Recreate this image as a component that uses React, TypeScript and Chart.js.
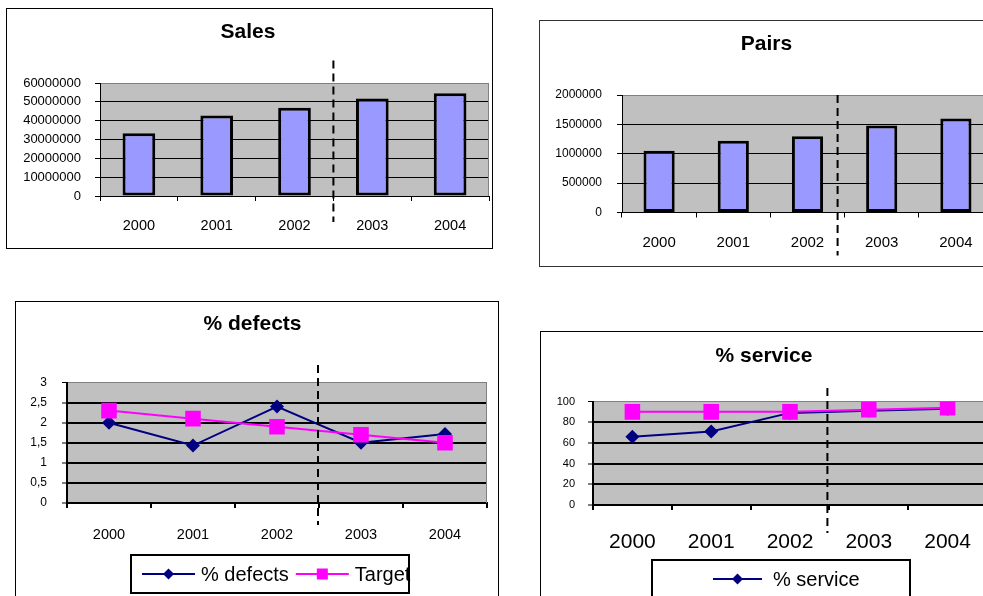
import React, { useEffect, useRef } from "react";
import { Chart, registerables } from "chart.js";

Chart.register(...registerables);

// ---------- data ----------
const YEARS = ["2000", "2001", "2002", "2003", "2004"];
const SALES = [33300000, 42800000, 46900000, 51800000, 54600000];
const PAIRS = [1050000, 1220000, 1300000, 1480000, 1600000];
const DEFECTS = [2.0, 1.43, 2.4, 1.5, 1.72];
const DEFECTS_TARGET = [2.3, 2.1, 1.9, 1.7, 1.5];
const SERVICE = [66, 71, 89, 91, 93];
const SERVICE_TARGET = [90, 90, 90, 92, 94];
const FIRST_FORECAST_YEAR = "2003";

const SALES_TICKS = { max: 60000000, step: 10000000 };
const PAIRS_TICKS = { max: 2000000, step: 500000 };
const DEFECTS_TICKS = { max: 3, step: 0.5 };
const SERVICE_TICKS = { max: 100, step: 20 };

// ---------- styling ----------
const FONT = "'Liberation Sans', Arial, Helvetica, sans-serif";
const NAVY = "#000080";
const MAGENTA = "#ff00ff";
const BAR = "#9999ff";
const PLOT_BG = "#c0c0c0";

Chart.defaults.font.family = FONT;
Chart.defaults.color = "#000";

const plotFrame = {
  id: "plotFrame",
  beforeDraw(chart: any) {
    const { ctx, chartArea: a } = chart;
    ctx.save();
    ctx.fillStyle = PLOT_BG;
    ctx.fillRect(a.left, a.top, a.right - a.left, a.bottom - a.top);
    ctx.restore();
  },
  beforeDatasetsDraw(chart: any) {
    const { ctx, chartArea: a } = chart;
    ctx.save();
    ctx.strokeStyle = "#808080";
    ctx.lineWidth = 1;
    const rx = Math.round(a.right) - 0.5;
    ctx.beginPath();
    ctx.moveTo(rx, a.top);
    ctx.lineTo(rx, a.bottom);
    ctx.stroke();
    ctx.restore();
  },
};

const divider = {
  id: "divider",
  afterDatasetsDraw(chart: any, _args: any, opts: any) {
    const labels = chart.data.labels as string[];
    const idx = labels.indexOf(opts.before);
    if (idx < 1) return;
    const xs = chart.scales.x;
    const px =
      (xs.getPixelForValue(idx - 1) + xs.getPixelForValue(idx)) / 2 + (opts.shift || 0);
    const a = chart.chartArea;
    const ctx = chart.ctx;
    ctx.save();
    ctx.setLineDash([8, 5]);
    ctx.lineWidth = 2;
    ctx.strokeStyle = "#000";
    ctx.beginPath();
    ctx.moveTo(px, a.top - opts.above);
    ctx.lineTo(px, a.bottom + opts.below);
    ctx.stroke();
    ctx.restore();
  },
};

function drawMarker(ctx: CanvasRenderingContext2D, style: string, x: number, y: number, r: number, color: string) {
  ctx.save();
  ctx.fillStyle = color;
  ctx.beginPath();
  if (style === "rectRot") {
    ctx.moveTo(x, y - r);
    ctx.lineTo(x + r, y);
    ctx.lineTo(x, y + r);
    ctx.lineTo(x - r, y);
    ctx.closePath();
  } else {
    ctx.rect(x - r, y - r, 2 * r, 2 * r);
  }
  ctx.fill();
  ctx.restore();
}

const boxLegend = {
  id: "boxLegend",
  afterDraw(chart: any, _args: any, opts: any) {
    if (!opts || !opts.show) return;
    const ctx = chart.ctx as CanvasRenderingContext2D;
    ctx.save();
    ctx.fillStyle = "#fff";
    ctx.fillRect(opts.left, opts.top, opts.width, opts.height);
    ctx.lineWidth = 2;
    ctx.strokeStyle = "#000";
    ctx.strokeRect(opts.left, opts.top, opts.width, opts.height);
    const cy = opts.top + opts.height / 2;
    let x = opts.startX;
    ctx.font = `${opts.fontSize}px ${FONT}`;
    ctx.textBaseline = "middle";
    ctx.textAlign = "left";
    chart.data.datasets.forEach((ds: any, i: number) => {
      if ((opts.hide || []).includes(i)) return;
      ctx.strokeStyle = ds.borderColor;
      ctx.lineWidth = ds.borderWidth;
      ctx.beginPath();
      ctx.moveTo(x, cy);
      ctx.lineTo(x + opts.symbolWidth, cy);
      ctx.stroke();
      drawMarker(ctx, ds.pointStyle, x + opts.symbolWidth / 2, cy, ds.pointStyle === "rectRot" ? 5.5 : 5.5, ds.pointBackgroundColor);
      const tx = x + opts.symbolWidth + opts.textGap;
      ctx.fillStyle = "#000";
      ctx.fillText(ds.label, tx, cy + 1);
      x = tx + ctx.measureText(ds.label).width + opts.itemGap;
    });
    ctx.restore();
  },
};

function yAxis(o: any) {
  return {
    min: 0,
    max: o.max,
    afterFit: (s: any) => {
      s.width = o.width;
    },
    grid: {
      color: (c: any) => (c.tick && c.tick.value === o.max ? "#808080" : "#000"),
      lineWidth: (c: any) => (c.tick && c.tick.value === o.max ? 1 : o.grid),
      drawTicks: true,
      tickLength: 5,
      tickColor: "#000",
      tickWidth: 1,
    },
    border: { display: true, color: "#000", width: o.axis },
    ticks: {
      stepSize: o.step,
      color: "#000",
      padding: o.pad,
      font: { family: FONT, size: o.font },
      callback: o.fmt,
    },
  };
}

function xAxis(o: any) {
  return {
    type: "category",
    offset: true,
    afterFit: (s: any) => {
      s.height = o.height;
    },
    grid: {
      display: true,
      offset: true,
      drawOnChartArea: false,
      drawTicks: true,
      tickLength: 5,
      color: "#000",
      tickColor: "#000",
      tickWidth: o.tick,
      lineWidth: o.tick,
    },
    border: { display: true, color: "#000", width: o.axis },
    ticks: {
      color: "#000",
      padding: o.pad,
      font: { family: FONT, size: o.font },
      maxRotation: 0,
      autoSkip: false,
    },
  };
}

function titleOpts(text: string, top: number, bottom: number) {
  return {
    display: true,
    text,
    color: "#000",
    font: { family: FONT, size: 21, weight: "bold" },
    padding: { top, bottom },
  };
}

const plain = (v: any) => String(v);
const comma = (v: any) => String(v).replace(".", ",");

function barConfig(label: string, values: number[], ticks: any, lay: any) {
  return {
    type: "bar",
    data: {
      labels: YEARS,
      datasets: [
        {
          label,
          data: values,
          backgroundColor: BAR,
          borderColor: "#000",
          borderWidth: 3,
          borderSkipped: false,
          barPercentage: 0.42,
          categoryPercentage: 1,
        },
      ],
    },
    plugins: [plotFrame, divider],
    options: {
      responsive: false,
      animation: false,
      events: [],
      layout: { padding: { left: 0, right: lay.right, top: 0, bottom: 0 } },
      scales: {
        x: xAxis({ height: lay.xHeight, pad: lay.xPad, font: lay.xFont, tick: 1, axis: 1 }),
        y: yAxis({ max: ticks.max, step: ticks.step, width: lay.yWidth, pad: lay.yPad, font: lay.yFont, grid: 1, axis: 1, fmt: plain }),
      },
      plugins: {
        legend: { display: false },
        tooltip: { enabled: false },
        title: titleOpts(label, lay.titleTop, lay.titleBottom),
        divider: { before: FIRST_FORECAST_YEAR, shift: lay.divShift, above: lay.divAbove, below: lay.divBelow },
      },
    },
  };
}

function lineDatasets(label: string, values: number[], target: number[], lay: any) {
  return [
    {
      label,
      data: values,
      borderColor: NAVY,
      borderWidth: 2,
      pointStyle: "rectRot",
      pointRadius: lay.dia,
      pointBackgroundColor: NAVY,
      pointBorderColor: NAVY,
      pointBorderWidth: 0,
      tension: 0,
      order: 1,
    },
    {
      label: "Target",
      data: target,
      borderColor: MAGENTA,
      borderWidth: 2,
      pointStyle: "rect",
      pointRadius: lay.sq,
      pointBackgroundColor: MAGENTA,
      pointBorderColor: MAGENTA,
      pointBorderWidth: 0,
      tension: 0,
      order: 0,
    },
  ];
}

function lineConfig(title: string, label: string, values: number[], target: number[], ticks: any, fmt: any, lay: any) {
  return {
    type: "line",
    data: { labels: YEARS, datasets: lineDatasets(label, values, target, lay) },
    plugins: [plotFrame, divider, boxLegend],
    options: {
      responsive: false,
      animation: false,
      events: [],
      layout: { padding: { left: 0, right: lay.right, top: 0, bottom: lay.bottom } },
      scales: {
        x: xAxis({ height: lay.xHeight, pad: lay.xPad, font: lay.xFont, tick: 2, axis: 2 }),
        y: yAxis({ max: ticks.max, step: ticks.step, width: lay.yWidth, pad: lay.yPad, font: lay.yFont, grid: 2, axis: 2, fmt }),
      },
      plugins: {
        legend: { display: false },
        tooltip: { enabled: false },
        title: titleOpts(title, lay.titleTop, lay.titleBottom),
        divider: { before: FIRST_FORECAST_YEAR, shift: lay.divShift, above: lay.divAbove, below: lay.divBelow },
        boxLegend: lay.legend,
      },
    },
  };
}

function Panel({ box, border, makeConfig }: any) {
  const ref = useRef<HTMLCanvasElement>(null);
  const w = box.width - 2;
  const h = box.height - 2;
  useEffect(() => {
    const chart = new Chart(ref.current as HTMLCanvasElement, makeConfig());
    return () => chart.destroy();
  }, []);
  return (
    <div
      style={{
        position: "absolute",
        left: box.left,
        top: box.top,
        width: box.width,
        height: box.height,
        border: `1px solid ${border}`,
        boxSizing: "border-box",
        background: "#fff",
      }}
    >
      <canvas ref={ref} width={w} height={h} style={{ display: "block", width: w, height: h }} />
    </div>
  );
}

export default function App() {
  return (
    <div
      style={{
        position: "fixed",
        left: 0,
        top: 0,
        width: 983,
        height: 596,
        overflow: "hidden",
        background: "#fff",
      }}
    >
      <Panel
        box={{ left: 6, top: 8, width: 487, height: 241 }}
        border="#000"
        makeConfig={() =>
          barConfig("Sales", SALES, SALES_TICKS, {
            right: 3, xHeight: 52, xPad: 16, xFont: 14.5, yWidth: 93, yPad: 14, yFont: 13,
            titleTop: 10.9, titleBottom: 37.9, divShift: 0, divAbove: 22.5, divBelow: 26,
          })
        }
      />
      <Panel
        box={{ left: 539, top: 20, width: 480, height: 247 }}
        border="#333"
        makeConfig={() =>
          barConfig("Pairs", PAIRS, PAIRS_TICKS, {
            right: 25, xHeight: 53.5, xPad: 16, xFont: 15, yWidth: 82, yPad: 15, yFont: 12,
            titleTop: 10.7, titleBottom: 38.1, divShift: -7, divAbove: 0, divBelow: 43,
          })
        }
      />
      <Panel
        box={{ left: 15, top: 301, width: 484, height: 310 }}
        border="#000"
        makeConfig={() =>
          lineConfig("% defects", "% defects", DEFECTS, DEFECTS_TARGET, DEFECTS_TICKS, comma, {
            right: 9, bottom: 62, xHeight: 45, xPad: 18, xFont: 14.5, yWidth: 51, yPad: 15, yFont: 12,
            titleTop: 9.9, titleBottom: 45.4, divShift: -1, divAbove: 17.5, divBelow: 22, sq: 11, dia: 7,
            legend: { show: true, left: 115, top: 253, width: 278, height: 38, startX: 126, symbolWidth: 53, textGap: 6, itemGap: 7, fontSize: 20, hide: [] },
          })
        }
      />
      <Panel
        box={{ left: 540, top: 331, width: 480, height: 290 }}
        border="#000"
        makeConfig={() =>
          lineConfig("% service", "% service", SERVICE, SERVICE_TARGET, SERVICE_TICKS, plain, {
            right: 32, bottom: 55, xHeight: 60, xPad: 20, xFont: 21, yWidth: 52, yPad: 13, yFont: 11,
            titleTop: 11.6, titleBottom: 32.7, divShift: -2, divAbove: 13.5, divBelow: 28, sq: 11, dia: 7,
            legend: { show: true, left: 111, top: 228, width: 258, height: 38, startX: 172, symbolWidth: 49, textGap: 11, itemGap: 7, fontSize: 20, hide: [1] },
          })
        }
      />
    </div>
  );
}
